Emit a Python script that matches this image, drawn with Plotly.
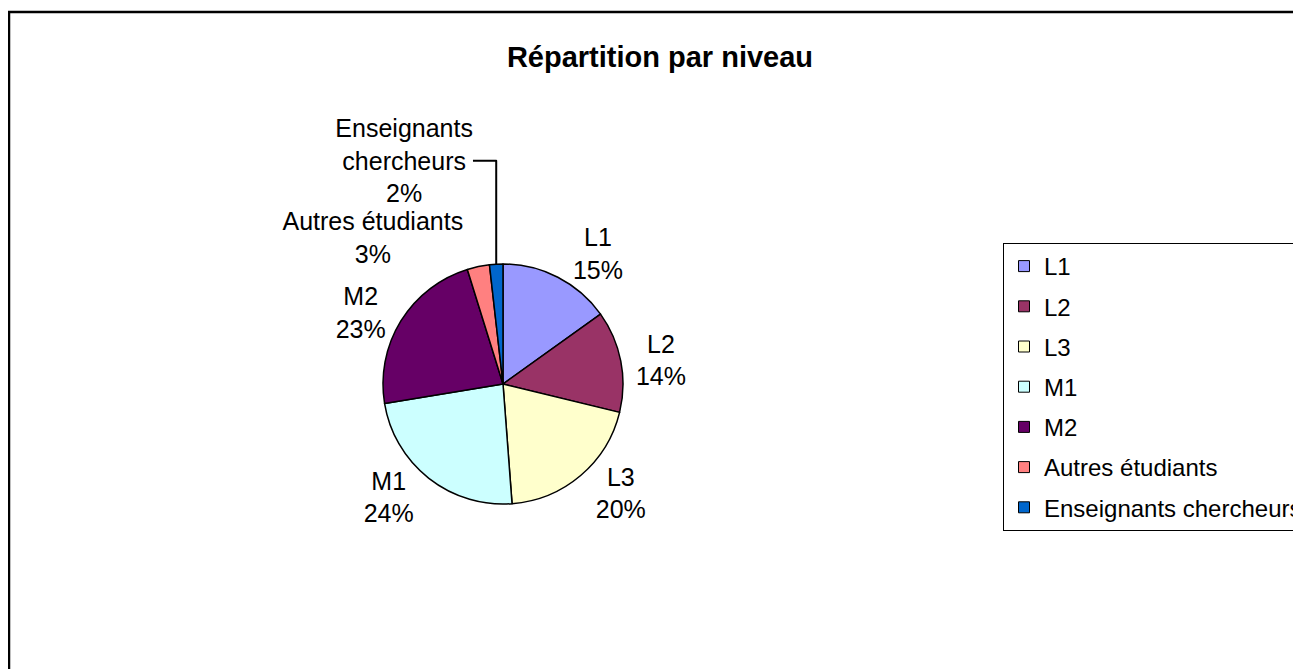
import plotly.graph_objects as go

# data (share of each group, %)
niveaux = ['L1', 'L2', 'L3', 'M1', 'M2', 'Autres étudiants', 'Enseignants chercheurs']
etiquettes = ['L1', 'L2', 'L3', 'M1', 'M2', 'Autres étudiants', 'Enseignants<br>chercheurs']
parts = [15.1, 13.7, 20.0, 23.6, 22.8, 3.0, 1.8]
couleurs = ['#9999FF', '#993366', '#FFFFCC', '#CCFFFF', '#660066', '#FF8080', '#0066CC']

police = 'Arial, Liberation Sans, sans-serif'
W, H = 1301, 669

fig = go.Figure()

# pie centre ~ (495, 376) px, radius ~120 px
cx, cy, r = 495 / W, 1 - 376 / H, 120
fig.add_trace(go.Pie(
    labels=niveaux,
    values=parts,
    text=etiquettes,
    sort=False,
    direction='clockwise',
    rotation=0,
    marker=dict(colors=couleurs, line=dict(color='black', width=1.5)),
    texttemplate='%{text}<br>%{percent:.0%}',
    textposition='outside',
    textfont=dict(family=police, size=25, color='black'),
    domain=dict(x=[cx - r / W, cx + r / W], y=[cy - r / H, cy + r / H]),
    showlegend=False,
    hoverinfo='label+percent',
))

# legend entries (one group each so the spacing can be opened up)
for nom, coul in zip(niveaux, couleurs):
    fig.add_trace(go.Scatter(
        x=[None], y=[None], mode='markers', name=nom, legendgroup=nom,
        marker=dict(symbol='square', size=11, color=coul,
                    line=dict(color='black', width=1)),
    ))

fig.update_layout(
    width=W, height=H,
    margin=dict(l=0, r=0, t=0, b=0),
    paper_bgcolor='white', plot_bgcolor='white',
    xaxis=dict(visible=False), yaxis=dict(visible=False),
    title=dict(text='<b>Répartition par niveau</b>', x=652 / W, y=1 - 49 / H,
               xanchor='center', yanchor='middle',
               font=dict(family=police, size=29, color='black')),
    legend=dict(x=995 / W, y=1 - 235 / H, xanchor='left', yanchor='top',
                bordercolor='black', borderwidth=1, bgcolor='white',
                font=dict(family=police, size=24, color='black'),
                tracegroupgap=6, itemsizing='trace'),
    shapes=[dict(type='rect', xref='paper', yref='paper',
                 x0=1 / W, x1=1.05, y0=-0.05, y1=1 - 4 / H,
                 line=dict(color='black', width=2.5))],
)

fig.write_html("out.html")
